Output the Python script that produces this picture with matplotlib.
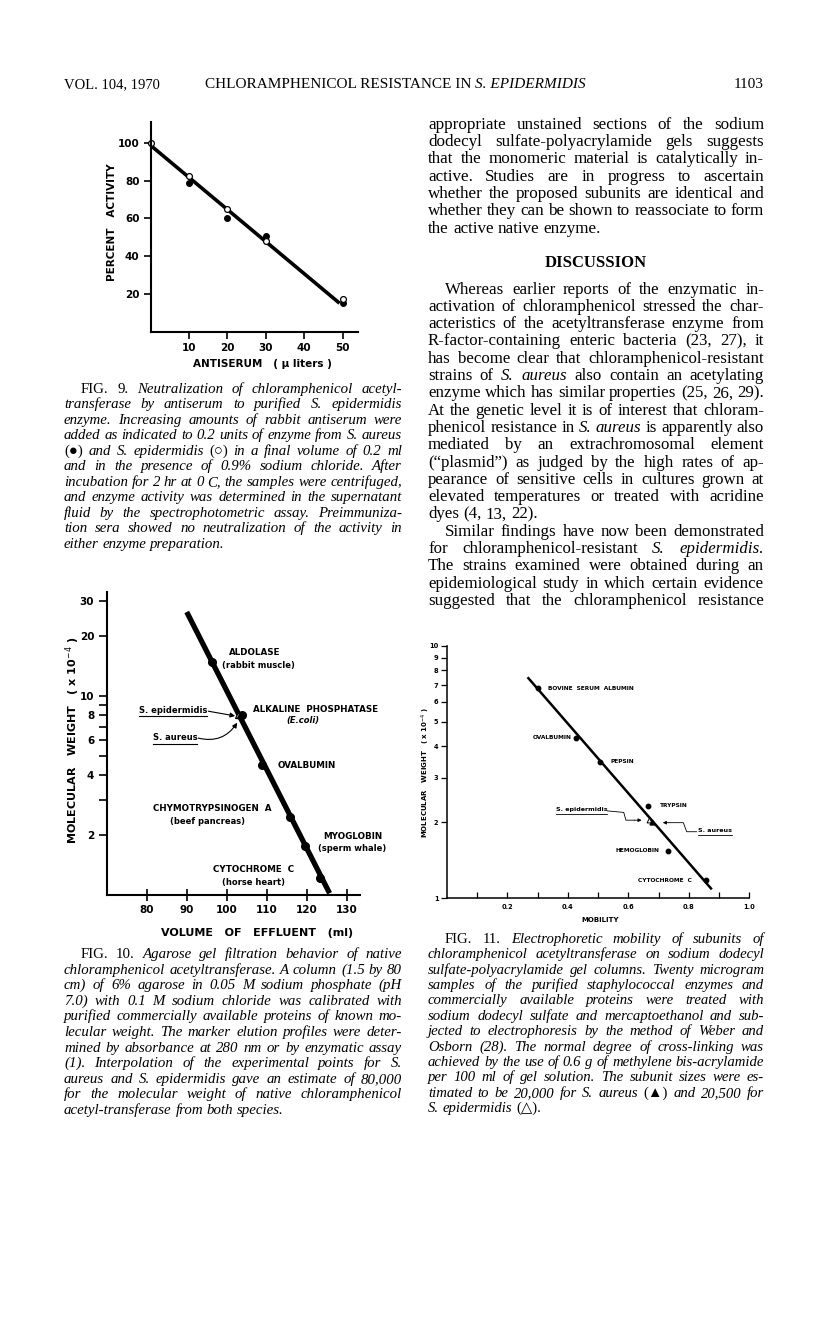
import matplotlib
matplotlib.use('Agg')
import matplotlib.pyplot as plt
from matplotlib.ticker import NullFormatter, NullLocator
from matplotlib.lines import Line2D

# ---- data ----
# Fig. 9: percent activity vs antiserum (ul)
fig9_aureus_ul = [10, 20, 30, 50]
fig9_aureus_pct = [79, 60, 51, 15.5]
fig9_epid_ul = [0, 10, 20, 30, 50]
fig9_epid_pct = [100, 82.5, 65, 48, 17.5]
fig9_fit_ul = [0, 49.2]
fig9_fit_pct = [98.7, 15.2]

# Fig. 10: molecular weight (x10^-4) vs volume of effluent (ml)
fig10_proteins = ['ALDOLASE', 'ALKALINE PHOSPHATASE', 'OVALBUMIN',
                  'CHYMOTRYPSINOGEN A', 'MYOGLOBIN', 'CYTOCHROME C']
fig10_sources = ['(rabbit muscle)', '(E.coli)', '', '(beef pancreas)',
                 '(sperm whale)', '(horse heart)']
fig10_volume = [96.3, 103.9, 108.8, 115.7, 119.6, 123.4]
fig10_mw = [14.9, 8.0, 4.5, 2.48, 1.77, 1.22]
fig10_epid_volume, fig10_epid_mw = [102.8], [8.0]
fig10_aureus_volume, fig10_aureus_mw = [103.3], [8.0]
fig10_fit_volume = [90.0, 125.7]
fig10_fit_mw = [26.5, 1.02]

# Fig. 11: molecular weight (x10^-4) vs mobility
fig11_proteins = ['BOVINE SERUM ALBUMIN', 'OVALBUMIN', 'PEPSIN', 'TRYPSIN',
                  'HEMOGLOBIN', 'CYTOCHROME C']
fig11_mobility = [0.302, 0.427, 0.508, 0.664, 0.732, 0.856]
fig11_mw = [6.80, 4.33, 3.48, 2.33, 1.545, 1.18]
fig11_epid_mobility, fig11_epid_mw = [0.667], [2.04]
fig11_aureus_mobility, fig11_aureus_mw = [0.679], [2.0]
fig11_fit_mobility = [0.267, 0.876]
fig11_fit_mw = [7.52, 1.085]

W, H = 816, 1321
SERIF = ['Liberation Serif', 'DejaVu Serif', 'DejaVu Sans']
SANS = ['DejaVu Sans']

fig = plt.figure(figsize=(W / 100, H / 100), dpi=100)
fig.patch.set_facecolor('white')
renderer = fig.canvas.get_renderer()


def fx(px):
    return px / W


def fy(py):
    return 1 - py / H


def axes_px(left, top, right, bottom):
    return fig.add_axes([fx(left), fy(bottom), (right - left) / W, (bottom - top) / H])


def style_axes(ax, lw=1.4):
    for s in ['top', 'right']:
        ax.spines[s].set_visible(False)
    for s in ['left', 'bottom']:
        ax.spines[s].set_linewidth(lw)
    ax.patch.set_alpha(0)


def bold_ticks(ax, size):
    for lbl in ax.get_xticklabels() + ax.get_yticklabels():
        lbl.set_fontweight('bold')
        lbl.set_fontsize(size)
        lbl.set_family(SANS)


def underline(t, lw=0.8):
    bb = t.get_window_extent(renderer)
    fig.add_artist(Line2D([bb.x0 / W, bb.x1 / W], [(bb.y0 - 1.5) / H] * 2,
                          color='black', lw=lw))


def word_width(w, size, italic):
    t = fig.text(0, 0, w, fontsize=size, style='italic' if italic else 'normal',
                 family=SERIF)
    wd = t.get_window_extent(renderer).width
    t.remove()
    return wd


def split_words(line, italic_base):
    out = []
    for w in line.split():
        alt = w.startswith('^')
        out.append((w[1:] if alt else w, italic_base != alt))
    return out


def block(lines, x0, x1, y0, dy, italic_base, indents=(), ragged=(), fill=0.985):
    # pick a size so the tightest justified line just fits, then justify word by word
    ratio = 0
    for i, line in enumerate(lines):
        if i in ragged:
            continue
        words = split_words(line, italic_base)
        nat = sum(word_width(w, 10, it) for w, it in words) + (len(words) - 1) * 10 * 100 / 72 * 0.22
        avail = x1 - x0 - (17 if i in indents else 0)
        ratio = max(ratio, nat / avail)
    size = 10 / ratio * fill
    space = size * 100 / 72 * 0.25
    for i, line in enumerate(lines):
        yb = y0 + i * dy + size * 100 / 72 * 0.33
        objs = [fig.text(0, fy(yb), w, fontsize=size,
                         style='italic' if it else 'normal',
                         family=SERIF, va='baseline', ha='left')
                for w, it in split_words(line, italic_base)]
        widths = [t.get_window_extent(renderer).width for t in objs]
        left = x0 + (17 if i in indents else 0)
        if i in ragged or len(objs) == 1:
            gap = space
        else:
            gap = (x1 - left - sum(widths)) / (len(objs) - 1)
        x = left
        for t, wd in zip(objs, widths):
            t.set_x(fx(x))
            x += wd + gap
    return size


# ---- running head ----
LC0, LC1 = 64, 402
RC0, RC1 = 428, 764
fig.text(fx(LC0), fy(88), 'VOL. 104, 1970', fontsize=10.5, family=SERIF, va='baseline')
t = fig.text(fx(205), fy(88), 'CHLORAMPHENICOL RESISTANCE IN ', fontsize=11,
             family=SERIF, va='baseline')
wd = t.get_window_extent(renderer).width
fig.text(fx(205 + wd), fy(88), 'S. EPIDERMIDIS', fontsize=11, family=SERIF,
         style='italic', va='baseline')
fig.text(fx(RC1), fy(88), '1103', fontsize=11, family=SERIF, va='baseline', ha='right')

# ---- Fig. 9 ----
ax9 = axes_px(150.5, 122, 358, 332)
style_axes(ax9, 1.5)
ax9.plot(fig9_fit_ul, fig9_fit_pct, color='black', lw=2.6, solid_capstyle='butt')
ax9.plot(fig9_aureus_ul, fig9_aureus_pct, 'o', color='black', ms=4, clip_on=False)
ax9.plot(fig9_epid_ul, fig9_epid_pct, 'o', mfc='white', mec='black', mew=0.9, ms=4.2,
         clip_on=False)
ax9.set_xlim(0, 54)
ax9.set_ylim(0, 111)
ax9.set_xticks([10, 20, 30, 40, 50])
ax9.set_yticks([20, 40, 60, 80, 100])
ax9.tick_params(direction='out', length=5, width=1.2, pad=3)
bold_ticks(ax9, 7.5)
fig.text(fx(112), fy(222), 'PERCENT   ACTIVITY', rotation=90, fontsize=7.5,
         fontweight='bold', family=SANS, ha='center', va='center')
fig.text(fx(262), fy(364), 'ANTISERUM   ( μ liters )', fontsize=7.5,
         fontweight='bold', family=SANS, ha='center', va='center')

cap9 = [
    '^FIG. ^9. Neutralization of chloramphenicol acetyl-',
    'transferase by antiserum to purified S. epidermidis',
    'enzyme. Increasing amounts of rabbit antiserum were',
    'added as indicated to 0.2 units of enzyme from S. aureus',
    '^(●) and S. epidermidis ^(○) in a final volume of 0.2 ml',
    'and in the presence of 0.9% sodium chloride. After',
    'incubation for 2 hr at 0 C, the samples were centrifuged,',
    'and enzyme activity was determined in the supernatant',
    'fluid by the spectrophotometric assay. Preimmuniza-',
    'tion sera showed no neutralization of the activity in',
    'either enzyme preparation.',
]
block(cap9, LC0, LC1, 388, 15.5, True, indents=(0,), ragged=(10,))

# ---- Fig. 10 ----
ax10 = axes_px(106.7, 592, 360, 895)
style_axes(ax10, 1.5)
ax10.set_yscale('log')
ax10.plot(fig10_fit_volume, fig10_fit_mw, color='black', lw=3.8, solid_capstyle='butt')
ax10.plot(fig10_volume, fig10_mw, 'o', color='black', ms=5.5)
ax10.plot(fig10_epid_volume, fig10_epid_mw, '^', mfc='white', mec='black', mew=0.9, ms=5)
ax10.plot(fig10_aureus_volume, fig10_aureus_mw, '^', color='black', ms=5)
ax10.set_xlim(70, 133.3)
ax10.set_ylim(1, 33.4)
ax10.set_xticks([80, 90, 100, 110, 120, 130])
ax10.set_yticks([2, 4, 6, 8, 10, 20, 30])
ax10.set_yticklabels(['2', '4', '6', '8', '10', '20', '30'])
ax10.set_yticks([3, 5, 7, 9], minor=True)
ax10.yaxis.set_minor_formatter(NullFormatter())
ax10.tick_params(axis='both', which='both', direction='out', length=6, width=1.2, pad=3)
ax10.tick_params(axis='x', direction='inout', length=8)
bold_ticks(ax10, 7.5)

lab10 = [(107.1, 16.6, 'center'), (106.6, 8.6, 'left'), (112.8, 4.5, 'left'),
         (96.3, 2.71, 'center'), (124.1, 1.96, 'left'), (106.8, 1.34, 'center')]
src10 = [(107.8, 14.2, 'center'), (119.1, 7.5, 'center'), None,
         (95.3, 2.33, 'center'), (122.8, 1.71, 'left'), (106.6, 1.15, 'center')]
for name, src, p, q in zip(fig10_proteins, fig10_sources, lab10, src10):
    ax10.text(p[0], p[1], name.replace(' ', '  '), fontsize=6.3, fontweight='bold',
              family=SANS, ha=p[2], va='center')
    if q is not None:
        ax10.text(q[0], q[1], src, fontsize=6, fontweight='bold', family=SANS,
                  style='italic' if src == '(E.coli)' else 'normal', ha=q[2], va='center')
t1 = ax10.text(95.1, 8.5, 'S. epidermidis', fontsize=6, fontweight='bold',
               family=SANS, ha='right', va='center')
t2 = ax10.text(92.6, 6.17, 'S. aureus', fontsize=6, fontweight='bold',
               family=SANS, ha='right', va='center')
underline(t1)
underline(t2)
ax10.annotate('', xy=(102.1, 7.95), xytext=(95.4, 8.4),
              arrowprops=dict(arrowstyle='-|>', lw=0.8, color='black',
                              mutation_scale=7, shrinkA=0, shrinkB=0))
ax10.annotate('', xy=(102.6, 7.35), xytext=(92.9, 6.15),
              arrowprops=dict(arrowstyle='-|>', lw=0.8, color='black',
                              mutation_scale=7, shrinkA=0, shrinkB=0,
                              connectionstyle='arc3,rad=0.35'))
fig.text(fx(73), fy(740), 'MOLECULAR   WEIGHT   ( x 10$^{-4}$ )', rotation=90,
         fontsize=8, fontweight='bold', family=SANS, ha='center', va='center')
fig.text(fx(257), fy(933), 'VOLUME   OF   EFFLUENT   (ml)', fontsize=8,
         fontweight='bold', family=SANS, ha='center', va='center')

cap10 = [
    '^FIG. ^10. Agarose gel filtration behavior of native',
    'chloramphenicol acetyltransferase. A column (1.5 by 80',
    'cm) of 6% agarose in 0.05 M sodium phosphate (pH',
    '7.0) with 0.1 M sodium chloride was calibrated with',
    'purified commercially available proteins of known mo-',
    'lecular weight. The marker elution profiles were deter-',
    'mined by absorbance at 280 nm or by enzymatic assay',
    '(1). Interpolation of the experimental points for S.',
    'aureus and S. epidermidis gave an estimate of 80,000',
    'for the molecular weight of native chloramphenicol',
    'acetyl-transferase from both species.',
]
block(cap10, LC0, LC1, 953, 15.6, True, indents=(0,), ragged=(10,))

# ---- Fig. 11 ----
ax11 = axes_px(446.8, 646, 749.3, 898.3)
style_axes(ax11, 1.1)
ax11.set_yscale('log')
ax11.plot(fig11_fit_mobility, fig11_fit_mw, color='black', lw=1.8, solid_capstyle='butt')
ax11.plot(fig11_mobility, fig11_mw, 'o', color='black', ms=3.2)
ax11.plot(fig11_epid_mobility, fig11_epid_mw, '^', mfc='white', mec='black', mew=0.7, ms=3.5)
ax11.plot(fig11_aureus_mobility, fig11_aureus_mw, '^', color='black', ms=3.5)
ax11.set_xlim(0, 1.0)
ax11.set_ylim(1, 10)
ax11.set_xticks([0.2, 0.4, 0.6, 0.8, 1.0])
ax11.set_xticklabels(['0.2', '0.4', '0.6', '0.8', '1.0'])
ax11.set_xticks([0.1, 0.3, 0.5, 0.7, 0.9], minor=True)
ax11.set_yticks([1, 2, 3, 4, 5, 6, 7, 8, 9, 10])
ax11.set_yticklabels(['1', '2', '3', '4', '5', '6', '7', '8', '9', '10'])
ax11.yaxis.set_minor_locator(NullLocator())
ax11.tick_params(axis='y', direction='out', length=4, width=0.9, pad=2)
ax11.tick_params(axis='x', which='both', direction='in', length=4, width=0.9, pad=4)
bold_ticks(ax11, 4.8)

lab11 = [(0.334, 6.78, 'left'), (0.413, 4.33, 'right'), (0.542, 3.48, 'left'),
         (0.705, 2.33, 'left'), (0.702, 1.545, 'right'), (0.81, 1.18, 'right')]
for name, p in zip(fig11_proteins, lab11):
    ax11.text(p[0], p[1], name.replace(' ', '  '), fontsize=4.2, fontweight='bold',
              family=SANS, ha=p[2], va='center')
t3 = ax11.text(0.53, 2.24, 'S. epidermidis', fontsize=4.6, fontweight='bold',
               family=SANS, ha='right', va='center')
t4 = ax11.text(0.83, 1.85, 'S. aureus', fontsize=4.6, fontweight='bold',
               family=SANS, ha='left', va='center')
underline(t3, 0.6)
underline(t4, 0.6)
ax11.plot([0.531, 0.585, 0.592, 0.62], [2.22, 2.19, 2.04, 2.04], color='black', lw=0.6)
ax11.annotate('', xy=(0.644, 2.04), xytext=(0.62, 2.04),
              arrowprops=dict(arrowstyle='-|>', lw=0.6, color='black',
                              mutation_scale=5, shrinkA=0, shrinkB=0))
ax11.plot([0.826, 0.793, 0.782, 0.735], [1.836, 1.836, 1.994, 1.994], color='black', lw=0.6)
ax11.annotate('', xy=(0.714, 1.994), xytext=(0.735, 1.994),
              arrowprops=dict(arrowstyle='-|>', lw=0.6, color='black',
                              mutation_scale=5, shrinkA=0, shrinkB=0))
fig.text(fx(426), fy(772), 'MOLECULAR   WEIGHT   ( x 10$^{-4}$ )', rotation=90,
         fontsize=5, fontweight='bold', family=SANS, ha='center', va='center')
fig.text(fx(600), fy(920), 'MOBILITY', fontsize=5, fontweight='bold',
         family=SANS, ha='center', va='center')

cap11 = [
    '^FIG. ^11. Electrophoretic mobility of subunits of',
    'chloramphenicol acetyltransferase on sodium dodecyl',
    'sulfate-polyacrylamide gel columns. Twenty microgram',
    'samples of the purified staphylococcal enzymes and',
    'commercially available proteins were treated with',
    'sodium dodecyl sulfate and mercaptoethanol and sub-',
    'jected to electrophoresis by the method of Weber and',
    'Osborn (28). The normal degree of cross-linking was',
    'achieved by the use of 0.6 g of methylene bis-acrylamide',
    'per 100 ml of gel solution. The subunit sizes were es-',
    'timated to be 20,000 for S. aureus ^(▲) and 20,500 for',
    'S. epidermidis ^(△).',
]
block(cap11, RC0, RC1, 938, 15.4, True, indents=(0,), ragged=(11,))

# ---- right column body text ----
body1 = [
    'appropriate unstained sections of the sodium',
    'dodecyl sulfate-polyacrylamide gels suggests',
    'that the monomeric material is catalytically in-',
    'active. Studies are in progress to ascertain',
    'whether the proposed subunits are identical and',
    'whether they can be shown to reassociate to form',
    'the active native enzyme.',
]
body2 = [
    'Whereas earlier reports of the enzymatic in-',
    'activation of chloramphenicol stressed the char-',
    'acteristics of the acetyltransferase enzyme from',
    'R-factor-containing enteric bacteria (23, 27), it',
    'has become clear that chloramphenicol-resistant',
    'strains of ^S. ^aureus also contain an acetylating',
    'enzyme which has similar properties (25, 26, 29).',
    'At the genetic level it is of interest that chloram-',
    'phenicol resistance in ^S. ^aureus is apparently also',
    'mediated by an extrachromosomal element',
    '(“plasmid”) as judged by the high rates of ap-',
    'pearance of sensitive cells in cultures grown at',
    'elevated temperatures or treated with acridine',
    'dyes (4, 13, 22).',
    'Similar findings have now been demonstrated',
    'for chloramphenicol-resistant ^S. ^epidermidis.',
    'The strains examined were obtained during an',
    'epidemiological study in which certain evidence',
    'suggested that the chloramphenicol resistance',
]
block(body1, RC0, RC1, 123.3, 17.3, False, ragged=(6,))
fig.text(fx((RC0 + RC1) / 2), fy(263), 'DISCUSSION', fontsize=12, fontweight='bold',
         family=SERIF, ha='center', va='center')
block(body2, RC0, RC1, 288, 17.3, False, indents=(0, 14), ragged=(13,))

plt.savefig('out.png', dpi=100, facecolor='white')
